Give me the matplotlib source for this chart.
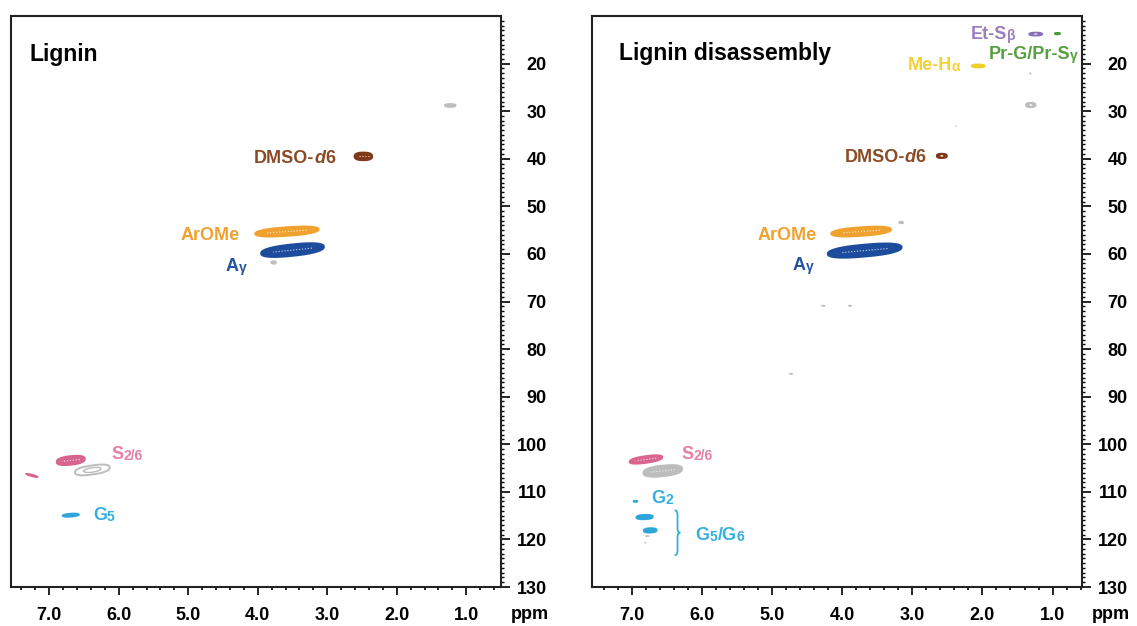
import numpy as np
import matplotlib
matplotlib.use("Agg")
import matplotlib.pyplot as plt
from matplotlib.path import Path
from matplotlib.patches import PathPatch

plt.rcParams['font.family'] = ['Liberation Sans', 'DejaVu Sans']
plt.rcParams['font.weight'] = 'bold'

# colours
c_brown, c_orange, c_blue = "#7E3A17", "#F0A22E", "#1E4C9C"
c_pink, c_grey, c_lblue = "#D9658E", "#BDBDBD", "#2FA6DB"
c_purple, c_green, c_yellow = "#8B6FB5", "#4C9A38", "#EFCF2A"
t_brown, t_blue, t_pink, t_lblue = "#8A4A24", "#2553A3", "#E77FA4", "#35AEE2"
t_purple, t_green, t_yellow = "#9A7FC0", "#55A040", "#F0D232"

# ---- Lignin: cross peaks (1H ppm, 13C ppm, width 1H, width 13C, tilt, colour, style)
lig_h    = [1.23, 2.48, 3.58, 3.50, 3.77, 6.69, 7.25, 6.38, 6.69]
lig_c    = [28.8, 39.5, 55.3, 59.2, 61.8, 103.4, 106.55, 105.4, 114.9]
lig_wh   = [0.18, 0.28, 0.94, 0.93, 0.06, 0.43, 0.19, 0.50, 0.26]
lig_wc   = [1.0, 2.0, 2.2, 2.8, 0.5, 2.2, 0.7, 1.9, 1.0]
lig_tilt = [0, 0, 1.0, 1.5, 0, 1.5, -3.7, 2.0, 1.0]
lig_col  = [c_grey, c_brown, c_orange, c_blue, c_grey, c_pink, c_pink, c_grey, c_lblue]
lig_sty  = ['fill', 'dots', 'dots', 'dots', 'edge', 'dots', 'fill', 'edge', 'fill']

# ---- Lignin disassembly
dis_h    = [1.24, 0.93, 2.06, 1.32, 1.31, 2.38, 2.58, 3.16, 3.73, 3.68, 4.27, 3.89, 4.73,
            6.80, 6.56, 6.95, 6.82, 6.74, 6.78, 6.81]
dis_c    = [13.8, 13.7, 20.5, 22.1, 28.7, 33.1, 39.4, 53.4, 55.3, 59.3, 70.9, 70.9, 85.2,
            103.2, 105.6, 112.0, 115.3, 118.1, 119.3, 120.7]
dis_wh   = [0.21, 0.10, 0.21, 0.03, 0.16, 0.02, 0.17, 0.08, 0.88, 1.08, 0.06, 0.06, 0.06,
            0.49, 0.58, 0.08, 0.26, 0.21, 0.06, 0.03]
dis_wc   = [1.0, 0.7, 1.0, 0.4, 1.3, 0.3, 1.3, 0.7, 2.2, 2.9, 0.4, 0.4, 0.4,
            1.8, 2.6, 0.6, 1.3, 1.3, 0.4, 0.3]
dis_tilt = [0, 0, 0, 0, 0, 0, 0, 0, 1.0, 1.3, 0, 0, 0,
            2.0, 1.5, 0, 0.5, 0.5, 0, 0]
dis_col  = [c_purple, c_green, c_yellow, c_grey, c_grey, c_grey, c_brown, c_grey, c_orange, c_blue,
            c_grey, c_grey, c_grey, c_pink, c_grey, c_lblue, c_lblue, c_lblue, c_grey, c_grey]
dis_sty  = ['ring', 'fill', 'fill', 'fill', 'ring', 'fill', 'ring', 'fill', 'dots', 'dots',
            'fill', 'fill', 'fill', 'dots', 'dots', 'fill', 'fill', 'fill', 'fill', 'fill']

# ---- labels: segments (text, kind) with kind 'n' normal, 's' subscript, 'i' italic
lig_labels = [
    ([('DMSO-', 'n'), ('d', 'i'), ('6', 'n')], 2.88, 39.5, 'right', t_brown),
    ([('ArOMe', 'n')], 4.26, 55.7, 'right', c_orange),
    ([('A', 'n'), ('γ', 's')], 4.16, 62.4, 'right', t_blue),
    ([('S', 'n'), ('2/6', 's')], 6.10, 101.8, 'left', t_pink),
    ([('G', 'n'), ('5', 's')], 6.37, 114.6, 'left', t_lblue),
]
dis_labels = [
    ([('Et-S', 'n'), ('β', 's')], 1.53, 13.7, 'right', t_purple),
    ([('Pr-G/Pr-S', 'n'), ('γ', 's')], 0.64, 17.9, 'right', t_green),
    ([('Me-H', 'n'), ('α', 's')], 2.32, 20.3, 'right', t_yellow),
    ([('DMSO-', 'n'), ('d', 'i'), ('6', 'n')], 2.81, 39.4, 'right', t_brown),
    ([('ArOMe', 'n')], 4.37, 55.7, 'right', c_orange),
    ([('A', 'n'), ('γ', 's')], 4.41, 62.3, 'right', t_blue),
    ([('S', 'n'), ('2/6', 's')], 6.30, 101.8, 'left', t_pink),
    ([('G', 'n'), ('2', 's')], 6.72, 110.9, 'left', t_lblue),
    ([('G', 'n'), ('5', 's'), ('/G', 'n'), ('6', 's')], 6.09, 118.8, 'left', t_lblue),
]

xticks = [7.0, 6.0, 5.0, 4.0, 3.0, 2.0, 1.0]
yticks = [20, 30, 40, 50, 60, 70, 80, 90, 100, 110, 120, 130]

brace_x, brace_top, brace_bot = 6.35, 113.9, 123.3

FS, FS_SUB = 13, 10


def draw_peak(ax, h, c, wh, wc, s, col, sty):
    t = np.linspace(0, 2 * np.pi, 160)
    ct, st = np.cos(t), np.sin(t)
    cx = np.sign(ct) * np.abs(ct) ** 0.8
    cy = np.sign(st) * np.abs(st) ** 0.8
    x = h + wh / 2 * cx
    y = c + wc / 2 * cy + s * (x - h)
    if sty == 'edge':
        ax.plot(x, y, color=col, lw=1.4)
        xi = h + wh / 4 * ct
        yi = c + wc / 4 * st + s * (xi - h)
        ax.plot(xi, yi, color=col, lw=1.0)
        return
    ax.fill(x, y, color=col, lw=0)
    if sty == 'ring':
        ax.fill(h + wh / 8 * ct, c + wc / 8 * st, color='white', lw=0)
    elif sty == 'dots':
        xl = np.linspace(h - wh * 0.3, h + wh * 0.3, 12)
        ax.plot(xl, c + s * (xl - h), ls=':', color='white', lw=0.8, alpha=0.8)


def label(ax, segs, x, y, ha, col):
    def props(kind):
        if kind == 's':
            return dict(fontsize=FS_SUB, fontweight='bold')
        if kind == 'i':
            return dict(fontsize=FS, fontweight='bold', fontstyle='italic')
        return dict(fontsize=FS, fontweight='bold')
    if ha == 'left':
        s0, k0 = segs[0]
        prev = ax.text(x, y, s0, ha='left', va='baseline', color=col, **props(k0))
        for s, k in segs[1:]:
            prev = ax.annotate(s, xy=(1, 0), xycoords=prev, ha='left', va='bottom',
                               color=col, **props(k))
    else:
        s0, k0 = segs[-1]
        prev = ax.text(x, y, s0, ha='right', va='baseline', color=col, **props(k0))
        for s, k in segs[-2::-1]:
            prev = ax.annotate(s, xy=(0, 0), xycoords=prev, ha='right', va='bottom',
                               color=col, **props(k))


def setup(ax, xlim):
    ax.set_xlim(*xlim)
    ax.set_ylim(130, 10)
    for sp in ax.spines.values():
        sp.set_linewidth(1.5)
        sp.set_color('#222222')
    ax.yaxis.tick_right()
    ax.set_xticks(xticks)
    ax.set_xticklabels(['%.1f' % v for v in xticks])
    ax.set_xticks(np.arange(0.6, 7.5, 0.2), minor=True)
    ax.set_yticks(yticks)
    ax.set_yticks(np.arange(11, 131, 1), minor=True)
    ax.tick_params(axis='x', which='major', direction='out', length=6, width=1.2,
                   pad=8.5, labelsize=13)
    ax.tick_params(axis='x', which='minor', direction='out', length=2.5, width=1.2)
    ax.tick_params(axis='y', which='major', direction='out', length=6.5, width=1.2,
                   pad=26.5, labelsize=13, right=True, left=False)
    ax.tick_params(axis='y', which='minor', direction='out', length=2, width=1.0,
                   right=True, left=False)
    for lab in ax.get_yticklabels():
        lab.set_ha('right')
    ax.annotate('ppm', xy=(1, 0), xycoords='axes fraction', xytext=(7, -20),
                textcoords='offset points', ha='left', va='center', fontsize=13,
                fontweight='bold')


fig = plt.figure(figsize=(11.37, 6.26), dpi=100)
ax1 = fig.add_axes([11 / 1137, 39 / 626, 490 / 1137, 571 / 626])
ax2 = fig.add_axes([592 / 1137, 39 / 626, 490 / 1137, 571 / 626])

setup(ax1, (7.55, 0.5))
setup(ax2, (7.57, 0.58))

for i in range(len(lig_h)):
    draw_peak(ax1, lig_h[i], lig_c[i], lig_wh[i], lig_wc[i], lig_tilt[i], lig_col[i], lig_sty[i])
for i in range(len(dis_h)):
    draw_peak(ax2, dis_h[i], dis_c[i], dis_wh[i], dis_wc[i], dis_tilt[i], dis_col[i], dis_sty[i])

for segs, h, c, ha, col in lig_labels:
    label(ax1, segs, h, c + 1.35, ha, col)
for segs, h, c, ha, col in dis_labels:
    label(ax2, segs, h, c + 1.35, ha, col)

ax1.text(7.29, 18.1, 'Lignin', ha='left', va='center', fontsize=16.5, fontweight='bold')
ax2.text(7.19, 17.8, 'Lignin disassembly', ha='left', va='center', fontsize=16.5,
         fontweight='bold')

# curly brace for G5/G6
d = 0.04
ym = (brace_top + brace_bot) / 2
verts = [(brace_x + d, brace_top),
         (brace_x + d * 0.2, brace_top), (brace_x, brace_top + 0.4), (brace_x, brace_top + 1.2),
         (brace_x, ym - 1.2),
         (brace_x, ym - 0.4), (brace_x - d * 0.2, ym), (brace_x - d, ym),
         (brace_x - d * 0.2, ym), (brace_x, ym + 0.4), (brace_x, ym + 1.2),
         (brace_x, brace_bot - 1.2),
         (brace_x, brace_bot - 0.4), (brace_x + d * 0.2, brace_bot), (brace_x + d, brace_bot)]
codes = [Path.MOVETO, Path.CURVE4, Path.CURVE4, Path.CURVE4, Path.LINETO,
         Path.CURVE4, Path.CURVE4, Path.CURVE4, Path.CURVE4, Path.CURVE4, Path.CURVE4,
         Path.LINETO, Path.CURVE4, Path.CURVE4, Path.CURVE4]
ax2.add_patch(PathPatch(Path(verts, codes), fill=False, edgecolor=t_lblue, lw=1.3))

fig.savefig('out.png', dpi=100)
